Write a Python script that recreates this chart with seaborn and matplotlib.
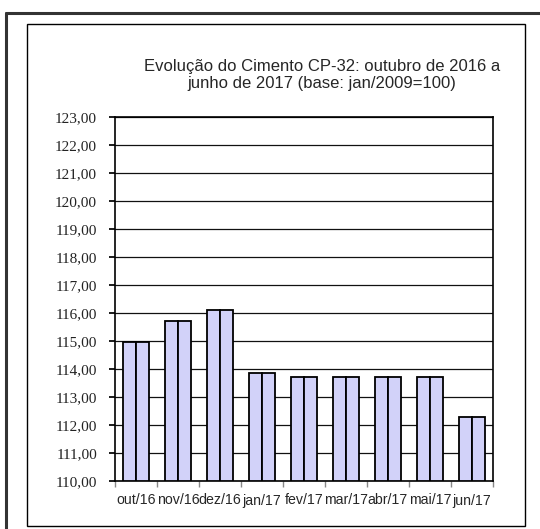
import numpy as np
import pandas as pd
import matplotlib
matplotlib.use("Agg")
import matplotlib.pyplot as plt
from matplotlib.patches import Rectangle
from matplotlib.lines import Line2D
import seaborn as sns

# dados
meses = ["out/16", "nov/16", "dez/16", "jan/17", "fev/17", "mar/17", "abr/17", "mai/17", "jun/17"]
indice = [114.98, 115.72, 116.09, 113.87, 113.73, 113.73, 113.73, 113.73, 112.28]
y_ticks = list(range(110, 124))
y_labels = [f"{v},00" for v in y_ticks]

sns.set_theme(style="white")
plt.rcParams["font.family"] = ["Liberation Sans", "DejaVu Sans"]

# cada barra aparece dividida em duas metades iguais
df = pd.DataFrame({
    "mes": meses * 2,
    "valor": indice * 2,
    "serie": ["a"] * len(meses) + ["b"] * len(meses),
})

W, H = 540, 529
fig = plt.figure(figsize=(W / 100, H / 100), dpi=100)
ax = fig.add_axes([115 / W, 1 - 481 / H, (493 - 115) / W, (481 - 117) / H])

sns.barplot(data=df, x="mes", y="valor", hue="serie", ax=ax, width=0.62,
            palette=["#CCCCFF", "#CCCCFF"], edgecolor="black", linewidth=1.3,
            legend=False, zorder=3)
# barras partem da base 110
for p in ax.patches:
    h = p.get_height()
    p.set_y(110)
    p.set_height(h - 110)

ax.set_ylim(110, 123)
ax.set_xlim(-0.5, len(meses) - 0.5)
ax.set_yticks(y_ticks)
ax.set_yticklabels(y_labels, fontsize=11, family=["Liberation Serif", "DejaVu Serif"], color="#222222")
ax.set_xticks(range(len(meses)))
ax.set_xticklabels(meses, fontsize=10.2)
ax.set_xlabel("")
ax.set_ylabel("")
ax.yaxis.grid(True, color="#111111", linewidth=0.9, zorder=0)
ax.set_axisbelow(True)
for s in ax.spines.values():
    s.set_color("black")
    s.set_linewidth(1.2)
ax.tick_params(axis="x", length=0, pad=9)
ax.tick_params(axis="y", left=True, length=4, color="black", pad=9)
# marcas entre categorias (estilo Excel)
ax.set_xticks(np.arange(-0.5, len(meses)), minor=True)
ax.tick_params(axis="x", which="minor", bottom=True, length=4, color="#888888")

fig.text(322 / W, 1 - 75 / H, "Evolução do Cimento CP-32: outubro de 2016 a\njunho de 2017 (base: jan/2009=100)",
         ha="center", va="center", fontsize=12, linespacing=1.2)

# molduras
fig.patches.append(Rectangle((27 / W, 1 - 526 / H), (525 - 27) / W, (526 - 24) / H,
                             transform=fig.transFigure, fill=False, edgecolor="black", linewidth=1.0))
fig.lines.append(Line2D([6 / W, 1], [1 - 13 / H, 1 - 13 / H], transform=fig.transFigure, color="#333333", linewidth=2.2))
fig.lines.append(Line2D([6 / W, 6 / W], [0, 1 - 13 / H], transform=fig.transFigure, color="#333333", linewidth=2.2))

fig.savefig("out.png", dpi=100)
